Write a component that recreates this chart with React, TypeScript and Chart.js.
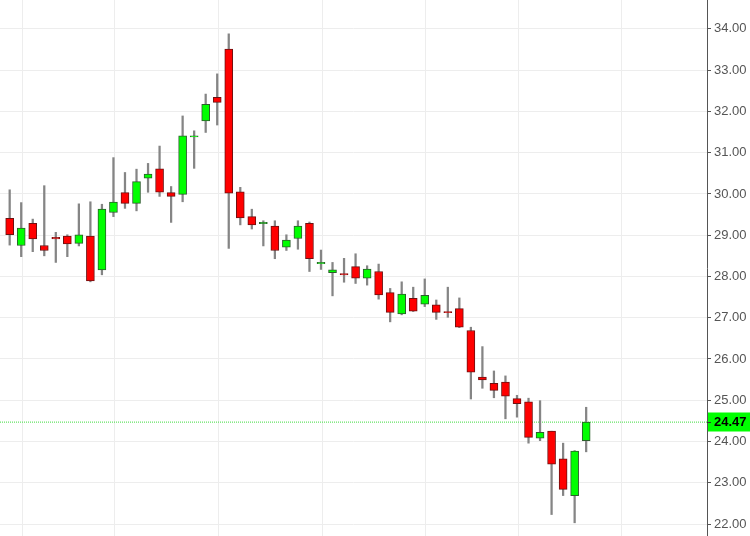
import React, { useEffect, useRef } from "react";
import { Chart, registerables } from "chart.js";

Chart.register(...registerables);

// Candle data (index 0..50)
const opens = [
  29.41, 28.75, 29.29, 28.75, 28.95, 28.98, 28.8, 28.98, 28.16, 29.55,
  30.03, 29.77, 30.38, 30.61, 30.03, 29.99, 31.38, 31.77, 32.34, 33.51,
  30.05, 29.45, 29.28, 29.22, 28.71, 28.92, 29.29, 28.31, 28.09, 28.07,
  28.24, 27.96, 28.12, 27.61, 27.09, 27.47, 27.33, 27.31, 27.15, 27.22,
  26.69, 25.56, 25.41, 25.44, 25.04, 24.96, 24.08, 24.25, 23.58, 22.69,
  24.02,
];
const highs = [
  30.1, 29.79, 29.39, 30.2, 29.07, 29.01, 29.76, 29.81, 29.75, 30.88,
  30.52, 30.6, 30.74, 31.16, 30.18, 31.89, 31.53, 32.42, 32.91, 33.88,
  30.16, 29.63, 29.35, 29.35, 29.01, 29.35, 29.32, 28.64, 28.34, 28.44,
  28.55, 28.26, 28.3, 27.71, 27.87, 27.74, 27.94, 27.43, 27.74, 27.48,
  26.77, 26.3, 25.71, 25.59, 25.12, 25.05, 24.99, 24.25, 23.96, 23.78,
  24.83,
];
const lows = [
  28.76, 28.48, 28.6, 28.5, 28.34, 28.48, 28.74, 27.87, 28.04, 29.45,
  29.65, 29.59, 30.04, 29.94, 29.31, 29.81, 30.62, 31.49, 31.67, 28.68,
  29.25, 29.15, 28.74, 28.43, 28.63, 28.66, 28.12, 28.17, 27.53, 27.86,
  27.83, 27.79, 27.45, 26.9, 27.07, 27.15, 27.27, 26.96, 27.01, 26.76,
  25.03, 25.29, 25.06, 24.55, 24.59, 23.96, 24.02, 22.23, 22.69, 22.03,
  23.75,
];
const closes = [
  29.01, 29.17, 28.91, 28.63, 28.91, 28.79, 29.01, 27.89, 29.63, 29.8,
  29.77, 30.3, 30.48, 30.04, 29.94, 31.41, 31.41, 32.17, 32.22, 30.02,
  29.42, 29.25, 29.31, 28.63, 28.88, 29.22, 28.43, 28.34, 28.16, 28.04,
  27.96, 28.18, 27.55, 27.13, 27.57, 27.16, 27.54, 27.13, 27.12, 26.77,
  25.68, 25.49, 25.24, 25.1, 24.92, 24.1, 24.22, 23.45, 22.84, 23.77,
  24.47,
];

const yTicks = [22, 23, 24, 25, 26, 27, 28, 29, 30, 31, 32, 33, 34];
const xGridLines = [1.1, 9.1, 18.1, 27.1, 36.1, 44.1, 53.1];
const lastPrice = 24.47;
const lastPriceLabel = "24.47";

const X_MIN = -0.84;
const X_MAX = 60.48;
const Y_MIN = 21.71;
const Y_MAX = 34.7;

const FONT = "'Liberation Sans', Arial, sans-serif";

const priceLabelPlugin = {
  id: "priceLabel",
  afterDraw(chart: any) {
    const ys = chart.scales.y;
    const y = ys.getPixelForValue(lastPrice);
    const ctx = chart.ctx;
    const right = chart.chartArea.right;
    ctx.save();
    ctx.fillStyle = "#00ff00";
    ctx.fillRect(right + 1, Math.round(y) - 9.5, chart.width - right - 1, 19);
    ctx.strokeStyle = "#333333";
    ctx.lineWidth = 1;
    ctx.beginPath();
    ctx.moveTo(right, Math.round(y) + 0.5);
    ctx.lineTo(right + 4, Math.round(y) + 0.5);
    ctx.stroke();
    ctx.fillStyle = "#000000";
    ctx.font = `bold 13px ${FONT}`;
    ctx.textBaseline = "middle";
    ctx.textAlign = "left";
    ctx.fillText(lastPriceLabel, right + 7, y + 0.5);
    ctx.restore();
  },
};

export default function App() {
  const canvasRef = useRef<HTMLCanvasElement | null>(null);

  useEffect(() => {
    const canvas = canvasRef.current;
    if (!canvas) return;
    const up = closes.map((c, i) => c >= opens[i]);
    const chart = new Chart(canvas, {
      type: "bar",
      data: {
        datasets: [
          {
            type: "bar",
            label: "body",
            data: opens.map((o, i) => ({ x: i, y: [o, closes[i]] })) as any,
            backgroundColor: up.map((u) => (u ? "#00ff00" : "#ff0000")),
            borderColor: up.map((u) => (u ? "#2b5e2b" : "#6e1010")),
            borderWidth: 1,
            borderSkipped: false,
            barThickness: 8,
            grouped: false,
            order: 0,
          } as any,
          {
            type: "bar",
            label: "wick",
            data: lows.map((l, i) => ({ x: i, y: [l, highs[i]] })) as any,
            backgroundColor: "#858585",
            borderWidth: 0,
            barThickness: 1.6,
            grouped: false,
            order: 1,
          } as any,
          {
            type: "line",
            label: "last",
            data: [
              { x: X_MIN, y: lastPrice },
              { x: X_MAX, y: lastPrice },
            ],
            borderColor: "#3fdc3f",
            borderWidth: 1,
            borderDash: [1, 1],
            pointRadius: 0,
            order: 2,
          } as any,
        ],
      },
      options: {
        animation: false,
        responsive: false,
        devicePixelRatio: 1,
        layout: { padding: 0 },
        plugins: {
          legend: { display: false },
          tooltip: { enabled: false },
        },
        scales: {
          x: {
            type: "linear",
            min: X_MIN,
            max: X_MAX,
            offset: false,
            afterBuildTicks: (s: any) => {
              s.ticks = xGridLines.map((v) => ({ value: v }));
            },
            afterFit: (s: any) => {
              s.height = 0;
              s.paddingLeft = 0;
              s.paddingRight = 0;
              s.paddingTop = 0;
              s.paddingBottom = 0;
            },
            grid: { color: "#ededed", offset: false, drawTicks: false },
            border: { display: false },
            ticks: { display: false },
          },
          y: {
            type: "linear",
            position: "right",
            min: Y_MIN,
            max: Y_MAX,
            beginAtZero: false,
            afterBuildTicks: (s: any) => {
              s.ticks = yTicks.map((v) => ({ value: v }));
            },
            afterFit: (s: any) => {
              s.width = 43;
              s.paddingTop = 0;
              s.paddingBottom = 0;
              s.paddingLeft = 0;
              s.paddingRight = 0;
            },
            grid: {
              color: "#ededed",
              tickColor: "#555555",
              tickLength: 4,
              drawTicks: true,
            },
            border: { display: true, color: "#555555", width: 1 },
            ticks: {
              padding: 3,
              color: "#555555",
              font: { family: FONT, size: 13 },
              callback: (v: any) => Number(v).toFixed(2),
            },
          },
        },
      } as any,
      plugins: [priceLabelPlugin],
    });
    return () => chart.destroy();
  }, []);

  return (
    <div style={{ position: "fixed", left: 0, top: 0, width: 750, height: 536, background: "#ffffff" }}>
      <canvas ref={canvasRef} width={750} height={536} style={{ display: "block" }} />
    </div>
  );
}
